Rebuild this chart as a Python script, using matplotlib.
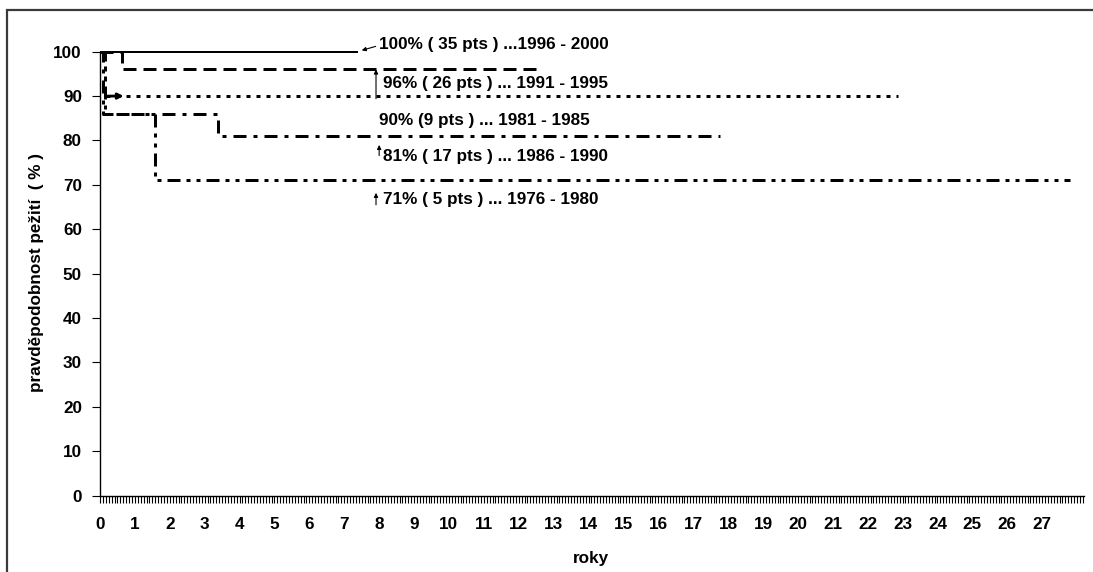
import matplotlib
matplotlib.use("Agg")
import matplotlib.pyplot as plt
from matplotlib.patches import Rectangle
from matplotlib.ticker import MultipleLocator

plt.rcParams['font.family'] = ['Liberation Sans', 'DejaVu Sans']
plt.rcParams['lines.scale_dashes'] = False

# Kaplan-Meier style survival steps per treatment period (years, % survival)
t_1996 = [0, 7.38]
s_1996 = [100, 100]
t_1991 = [0, 0.62, 12.6]
s_1991 = [100, 96, 96]
t_1981 = [0, 0.15, 22.87]
s_1981 = [100, 90, 90]
t_1986 = [0, 0.1, 3.38, 17.77]
s_1986 = [100, 86, 81, 81]
t_1976 = [0, 0.15, 1.58, 27.8]
s_1976 = [100, 86, 71, 71]

labels = [
    "100% ( 35 pts ) ...1996 - 2000",
    "96% ( 26 pts ) ... 1991 - 1995",
    "90% (9 pts ) ... 1981 - 1985",
    "81% ( 17 pts ) ... 1986 - 1990",
    "71% ( 5 pts ) ... 1976 - 1980",
]
x_ticks = list(range(0, 28))
y_ticks = list(range(0, 101, 10))

W, H, DPI = 1093, 572, 100
FS = 12.3
fig = plt.figure(figsize=(W / DPI, H / DPI), dpi=DPI)

# outer chart frame (left and top edges visible)
fig.add_artist(Rectangle((7 / W, -0.1), 1.2, (H - 10) / H + 0.1,
                         transform=fig.transFigure, fill=False,
                         edgecolor='#3a3a3a', lw=1.6))

ax = fig.add_axes([100 / W, 76.5 / H, 984 / W, 443.8 / H])
ax.set_xlim(0, 28.2)
ax.set_ylim(0, 100)

px = 0.72  # one pixel in points
common = dict(color='black', lw=3 * px, drawstyle='steps-post',
              clip_on=False, dash_capstyle='butt', solid_capstyle='butt')
ax.plot(t_1996, s_1996, **{**common, 'lw': 2 * px})
ax.plot(t_1991, s_1991, dashes=(13 * px, 7 * px), **common)
ax.plot(t_1981, s_1981, dashes=(4 * px, 6 * px), **common)
ax.plot(t_1986, s_1986,
        dashes=(13 * px, 7 * px, 4 * px, 7 * px), **common)
ax.plot(t_1976, s_1976,
        dashes=(13 * px, 6 * px, 4 * px, 6 * px, 4 * px, 6 * px), **common)

# axes styling
for side in ('top', 'right'):
    ax.spines[side].set_visible(False)
for side in ('left', 'bottom'):
    ax.spines[side].set_linewidth(1.0)
ax.set_xticks(x_ticks)
ax.set_yticks(y_ticks)
ax.xaxis.set_minor_locator(MultipleLocator(1 / 12))
ax.tick_params(axis='x', which='both', direction='out', length=5,
               width=0.8, pad=10.5, labelsize=FS)
ax.tick_params(axis='y', which='major', direction='out', length=6,
               width=0.8, pad=7, labelsize=FS)
ax.tick_params(axis='y', which='minor', length=0)
for lab in ax.get_xticklabels() + ax.get_yticklabels():
    lab.set_fontweight('bold')

ax.set_xlabel("roky", fontsize=FS, fontweight='bold', va='center')
ax.xaxis.set_label_coords((591 - 100) / 984, -(559 - 495.5) / 443.8)
ax.set_ylabel("pravděpodobnost pežití  ( % )", fontsize=FS,
              fontweight='bold', va='center')
ax.yaxis.set_label_coords(-(100 - 36) / 984, (495.5 - 272) / 443.8)

# annotations beside the curves
txt = dict(fontsize=FS, fontweight='bold', va='center', ha='left',
           color='black')
ax.text(8.0, 101.7, labels[0], clip_on=False, **txt)
ax.text(8.1, 92.8, labels[1], **txt)
ax.text(8.0, 84.6, labels[2], **txt)
ax.text(8.1, 76.3, labels[3], **txt)
ax.text(8.1, 66.6, labels[4], **txt)

arrow = dict(arrowstyle='-|>', color='black', lw=0.8,
             mutation_scale=6, shrinkA=0, shrinkB=0)
ax.annotate('', xy=(7.5, 100.3), xytext=(7.9, 101.2),
            arrowprops=arrow, annotation_clip=False)
ax.annotate('', xy=(7.91, 96.0), xytext=(7.91, 89.4), arrowprops=arrow)
ax.annotate('', xy=(8.0, 79.0), xytext=(8.0, 76.6), arrowprops=arrow)
ax.annotate('', xy=(7.91, 68.2), xytext=(7.91, 65.5), arrowprops=arrow)
ax.annotate('', xy=(0.68, 90), xytext=(0.22, 90),
            arrowprops=dict(arrowstyle='-|>', color='black', lw=2.0,
                            mutation_scale=8, shrinkA=0, shrinkB=0))

fig.savefig("out.png", dpi=DPI)
